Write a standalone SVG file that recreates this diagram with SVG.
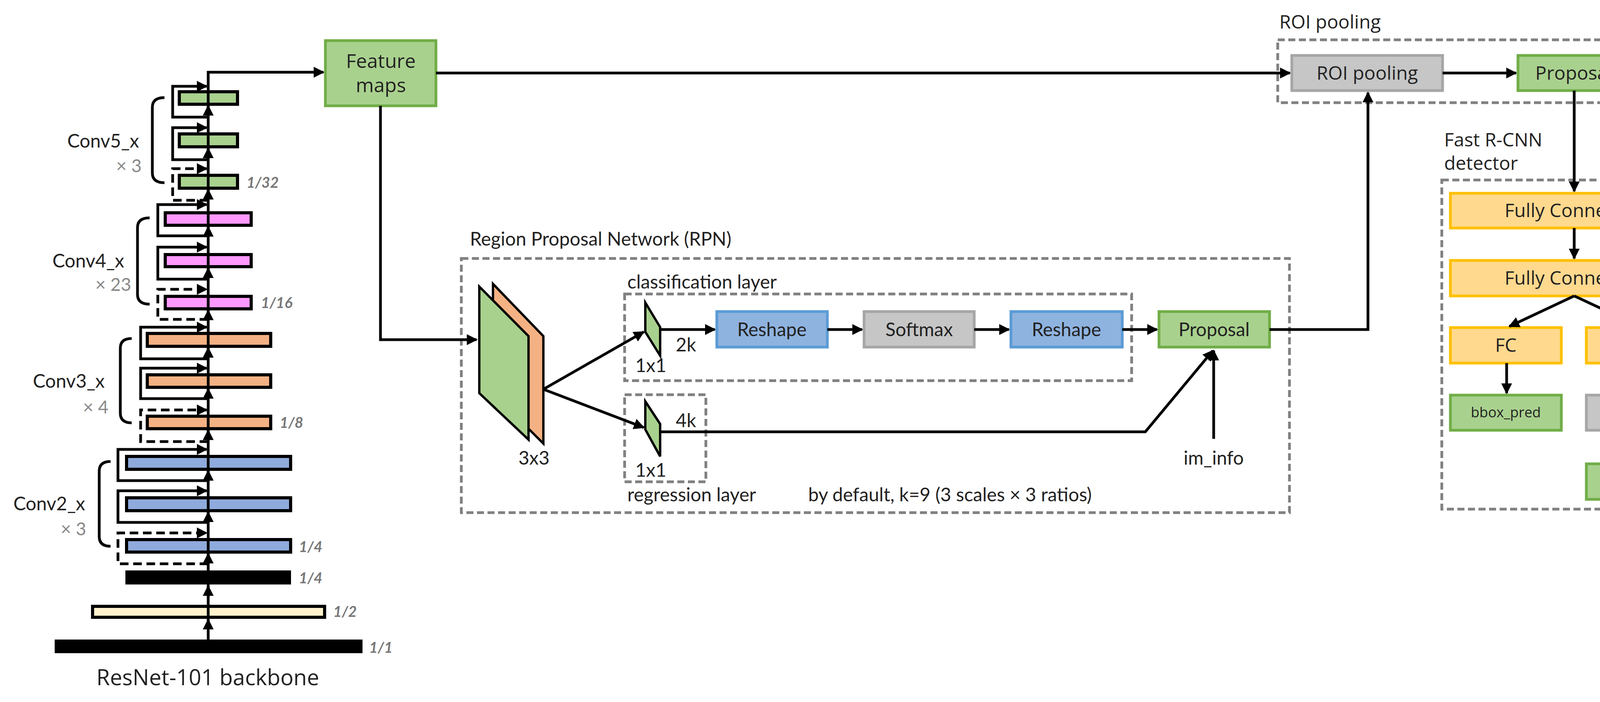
<svg xmlns="http://www.w3.org/2000/svg" width="4412" height="1798" viewBox="0 0 4412 1798">
<style>
text{font-family:Lato,"Open Sans",sans-serif;fill:#222}
.t{font-size:48px}
.r{font-family:"Open Sans",sans-serif;font-size:48px}
.g{fill:#888;font-size:46px}
.sc{fill:#777;font-size:38px;font-style:italic;font-weight:bold}
.bar{stroke:#000;stroke-width:8}
.ln{fill:none;stroke:#000;stroke-width:7}
.dl{fill:none;stroke:#000;stroke-width:7;stroke-dasharray:22 12}
.box{fill:none;stroke:#808080;stroke-width:7;stroke-dasharray:18 9}
.gr{fill:#a9d18e;stroke:#70ad47;stroke-width:7}
.bl{fill:#8fb3df;stroke:#5b9bd5;stroke-width:7}
.gy{fill:#c6c6c6;stroke:#a6a6a6;stroke-width:7}
.yl{fill:#ffd98e;stroke:#ffc000;stroke-width:7}
</style>
<defs>
<marker id="a" viewBox="0 0 10 10" refX="9" refY="5" markerWidth="4" markerHeight="4" orient="auto-start-reverse" markerUnits="strokeWidth"><path d="M0,0 L10,5 L0,10 z" fill="#000"/></marker>
</defs>

<g id="backbone">
<rect class="bar" x="459" y="235" width="149" height="32" fill="#a9d18e"/>
<rect class="bar" x="459" y="343" width="149" height="33" fill="#a9d18e"/>
<rect class="bar" x="459" y="449" width="149" height="33" fill="#a9d18e"/>
<rect class="bar" x="423" y="545" width="220" height="32" fill="#ff99ff"/>
<rect class="bar" x="423" y="652" width="220" height="31" fill="#ff99ff"/>
<rect class="bar" x="423" y="759" width="220" height="32" fill="#ff99ff"/>
<rect class="bar" x="377" y="854" width="316" height="33" fill="#f4b183"/>
<rect class="bar" x="377" y="960" width="316" height="32" fill="#f4b183"/>
<rect class="bar" x="377" y="1066" width="316" height="32" fill="#f4b183"/>
<rect class="bar" x="324" y="1169" width="420" height="33" fill="#8faadc"/>
<rect class="bar" x="324" y="1275" width="420" height="33" fill="#8faadc"/>
<rect class="bar" x="324" y="1382" width="420" height="32" fill="#8faadc"/>
<rect x="321" y="1461" width="424" height="36" fill="#000"/>
<rect class="bar" x="237" y="1553" width="594" height="28" fill="#fff2cc"/>
<rect x="140" y="1638" width="788" height="35" fill="#000"/>
<path class="ln" d="M421,250 Q390,250 390,275 L390,443 Q390,468 421,468"/>
<path class="ln" d="M383,558 Q352,558 352,583 L352,754 Q352,779 383,779"/>
<path class="ln" d="M337,867 Q308,867 308,892 L308,1058 Q308,1083 337,1083"/>
<path class="ln" d="M283,1182 Q254,1182 254,1207 L254,1374 Q254,1399 283,1399"/>
<text class="t" x="264" y="378" text-anchor="middle">Conv5_x</text>
<text class="g" x="330" y="441" text-anchor="middle">× 3</text>
<text class="t" x="226" y="685" text-anchor="middle">Conv4_x</text>
<text class="g" x="290" y="745" text-anchor="middle">× 23</text>
<text class="t" x="176" y="993" text-anchor="middle">Conv3_x</text>
<text class="g" x="245" y="1059" text-anchor="middle">× 4</text>
<text class="t" x="126" y="1307" text-anchor="middle">Conv2_x</text>
<text class="g" x="188" y="1371" text-anchor="middle">× 3</text>
<text class="sc" x="631" y="481">1/32</text>
<text class="sc" x="668" y="789">1/16</text>
<text class="sc" x="716" y="1096">1/8</text>
<text class="sc" x="765" y="1414">1/4</text>
<text class="sc" x="765" y="1494">1/4</text>
<text class="sc" x="853" y="1580">1/2</text>
<text class="sc" x="945" y="1672">1/1</text>
<text x="532" y="1755" text-anchor="middle" style="font-family:'Open Sans',sans-serif;font-size:56px">ResNet-101 backbone</text>
</g>

<g id="feature-maps"><rect class="gr" x="833" y="104" width="283" height="167"/>
<text class="r" x="975" y="174" text-anchor="middle" style="font-size:50px">Feature</text><text class="r" x="975" y="236" text-anchor="middle" style="font-size:50px">maps</text></g>

<g id="rpn">
<rect class="box" x="1181" y="662" width="2120" height="651"/>
<text class="t" x="1203" y="629">Region Proposal Network (RPN)</text>
<rect class="box" x="1599" y="753" width="1298" height="222"/>
<text class="t" x="1606" y="739">classification layer</text>
<rect class="box" x="1599" y="1011" width="208" height="223"/>
<text class="t" x="1606" y="1284">regression layer</text>
<text class="t" x="2069" y="1284">by default, k=9 (3 scales × 3 ratios)</text>
<polygon points="1262,727 1391,861 1391,1136 1262,1007" fill="#f4b183" stroke="#000" stroke-width="6"/>
<polygon points="1227,734 1353,861 1353,1126 1227,1007" fill="#a9d18e" stroke="#000" stroke-width="6"/>
<text class="t" x="1367" y="1190" text-anchor="middle">3x3</text>
<polygon points="1652,775 1690,838 1690,911 1652,850" fill="#a9d18e" stroke="#000" stroke-width="6"/>
<polygon points="1652,1028 1690,1086 1690,1169 1652,1100" fill="#a9d18e" stroke="#000" stroke-width="6"/>
<text class="t" x="1756" y="900" text-anchor="middle">2k</text>
<text class="t" x="1666" y="953" text-anchor="middle">1x1</text>
<text class="t" x="1756" y="1094" text-anchor="middle">4k</text>
<text class="t" x="1666" y="1221" text-anchor="middle">1x1</text>
<text class="t" x="3107" y="1190" text-anchor="middle">im_info</text>
</g>
<g id="reshape1"><rect class="bl" x="1835" y="798" width="283" height="91"/><text class="t" x="1976" y="861" text-anchor="middle">Reshape</text></g>
<g id="softmax1"><rect class="gy" x="2212" y="798" width="282" height="91"/><text class="t" x="2353" y="861" text-anchor="middle">Softmax</text></g>
<g id="reshape2"><rect class="bl" x="2588" y="798" width="285" height="91"/><text class="t" x="2730" y="861" text-anchor="middle">Reshape</text></g>
<g id="proposal-rpn"><rect class="gr" x="2967" y="798" width="283" height="91"/><text class="t" x="3108" y="861" text-anchor="middle">Proposal</text></g>

<g id="roi">
<rect class="box" x="3271" y="102" width="945" height="161"/>
<text class="r" x="3275" y="73">ROI pooling</text>
</g>
<g id="roi-pooling"><rect class="gy" x="3307" y="142" width="386" height="90"/><text class="r" x="3500" y="204" text-anchor="middle">ROI pooling</text></g>
<g id="proposal-roi"><rect class="gr" x="3886" y="142" width="286" height="90"/><text class="r" x="4029" y="204" text-anchor="middle">Proposal</text></g>

<g id="fast-rcnn">
<rect class="box" x="3691" y="461" width="674" height="843"/>
<text class="r" x="3697" y="375">Fast R-CNN</text>
<text class="r" x="3697" y="435">detector</text>
</g>
<g id="fc1"><rect class="yl" x="3713" y="495" width="634" height="89"/><text class="r" x="4030" y="556" text-anchor="middle">Fully Connected</text></g>
<g id="fc2"><rect class="yl" x="3713" y="667" width="634" height="91"/><text class="r" x="4030" y="729" text-anchor="middle">Fully Connected</text></g>
<g id="fc-left"><rect class="yl" x="3713" y="839" width="284" height="91"/><text class="r" x="3855" y="901" text-anchor="middle">FC</text></g>
<g id="fc-right"><rect class="yl" x="4061" y="839" width="286" height="91"/><text class="r" x="4204" y="901" text-anchor="middle">FC</text></g>
<g id="bbox-pred"><rect class="gr" x="3713" y="1012" width="284" height="90"/><text x="3855" y="1069" text-anchor="middle" style="font-family:'Open Sans',sans-serif;font-size:36px">bbox_pred</text></g>
<g id="softmax2"><rect class="gy" x="4061" y="1012" width="286" height="90"/><text class="r" x="4204" y="1073" text-anchor="middle">Softmax</text></g>
<g id="cls-prob"><rect class="gr" x="4061" y="1188" width="286" height="91"/><text x="4204" y="1246" text-anchor="middle" style="font-family:'Open Sans',sans-serif;font-size:36px">cls_prob</text></g>

<g id="connectors">
<path class="ln" d="M533,1638 L533,185 L828,185" marker-end="url(#a)"/>
<g class="ln">
<line x1="533" y1="1605" x2="533" y2="1587" marker-end="url(#a)"/>
<line x1="533" y1="1530" x2="533" y2="1501" marker-end="url(#a)"/>
<line x1="533" y1="1440" x2="533" y2="1418" marker-end="url(#a)"/>
<line x1="533" y1="1334" x2="533" y2="1312" marker-end="url(#a)"/>
<line x1="533" y1="1228" x2="533" y2="1206" marker-end="url(#a)"/>
<line x1="533" y1="1124" x2="533" y2="1102" marker-end="url(#a)"/>
<line x1="533" y1="1018" x2="533" y2="996" marker-end="url(#a)"/>
<line x1="533" y1="913" x2="533" y2="891" marker-end="url(#a)"/>
<line x1="533" y1="813" x2="533" y2="795" marker-end="url(#a)"/>
<line x1="533" y1="705" x2="533" y2="687" marker-end="url(#a)"/>
<line x1="533" y1="599" x2="533" y2="581" marker-end="url(#a)"/>
<line x1="533" y1="506" x2="533" y2="486" marker-end="url(#a)"/>
<line x1="533" y1="398" x2="533" y2="380" marker-end="url(#a)"/>
<line x1="533" y1="289" x2="533" y2="271" marker-end="url(#a)"/>
</g>
<path class="ln" d="M533,300 L442,300 L442,221 L529,221" marker-end="url(#a)"/>
<path class="ln" d="M533,409 L442,409 L442,327 L529,327" marker-end="url(#a)"/>
<path class="dl" d="M533,513 L442,513 L442,432 L529,432" marker-end="url(#a)"/>
<path class="ln" d="M533,604 L404,604 L404,524 L529,524" marker-end="url(#a)"/>
<path class="ln" d="M533,715 L404,715 L404,633 L529,633" marker-end="url(#a)"/>
<path class="dl" d="M533,818 L404,818 L404,741 L529,741" marker-end="url(#a)"/>
<path class="ln" d="M533,919 L360,919 L360,838 L529,838" marker-end="url(#a)"/>
<path class="ln" d="M533,1021 L360,1021 L360,943 L529,943" marker-end="url(#a)"/>
<path class="dl" d="M533,1131 L360,1131 L360,1050 L529,1050" marker-end="url(#a)"/>
<path class="ln" d="M533,1231 L302,1231 L302,1151 L529,1151" marker-end="url(#a)"/>
<path class="ln" d="M533,1338 L302,1338 L302,1257 L529,1257" marker-end="url(#a)"/>
<path class="dl" d="M533,1444 L302,1444 L302,1365 L529,1365" marker-end="url(#a)"/>
<path class="ln" d="M1116,187 L3302,187" marker-end="url(#a)"/>
<path class="ln" d="M974,271 L974,870 L1220,870" marker-end="url(#a)"/>
<path class="ln" d="M1391,997 L1648,850" marker-end="url(#a)"/>
<path class="ln" d="M1391,997 L1648,1095" marker-end="url(#a)"/>
<path class="ln" d="M1690,844 L1830,844" marker-end="url(#a)"/>
<path class="ln" d="M2118,844 L2207,844" marker-end="url(#a)"/>
<path class="ln" d="M2494,844 L2583,844" marker-end="url(#a)"/>
<path class="ln" d="M2873,844 L2962,844" marker-end="url(#a)"/>
<path class="ln" d="M1690,1106 L2932,1106 L3105,898" marker-end="url(#a)"/>
<path class="ln" d="M3107,1124 L3107,898" marker-end="url(#a)"/>
<path class="ln" d="M3250,844 L3502,844 L3502,237" marker-end="url(#a)"/>
<path class="ln" d="M3693,187 L3881,187" marker-end="url(#a)"/>
<path class="ln" d="M4030,232 L4030,490" marker-end="url(#a)"/>
<path class="ln" d="M4030,584 L4030,662" marker-end="url(#a)"/>
<path class="ln" d="M4030,758 L3864,836" marker-end="url(#a)"/>
<path class="ln" d="M4030,758 L4198,836" marker-end="url(#a)"/>
<path class="ln" d="M3857,930 L3857,1007" marker-end="url(#a)"/>
<path class="ln" d="M4204,930 L4204,1007" marker-end="url(#a)"/>
<path class="ln" d="M4204,1102 L4204,1183" marker-end="url(#a)"/>
</g>
</svg>
